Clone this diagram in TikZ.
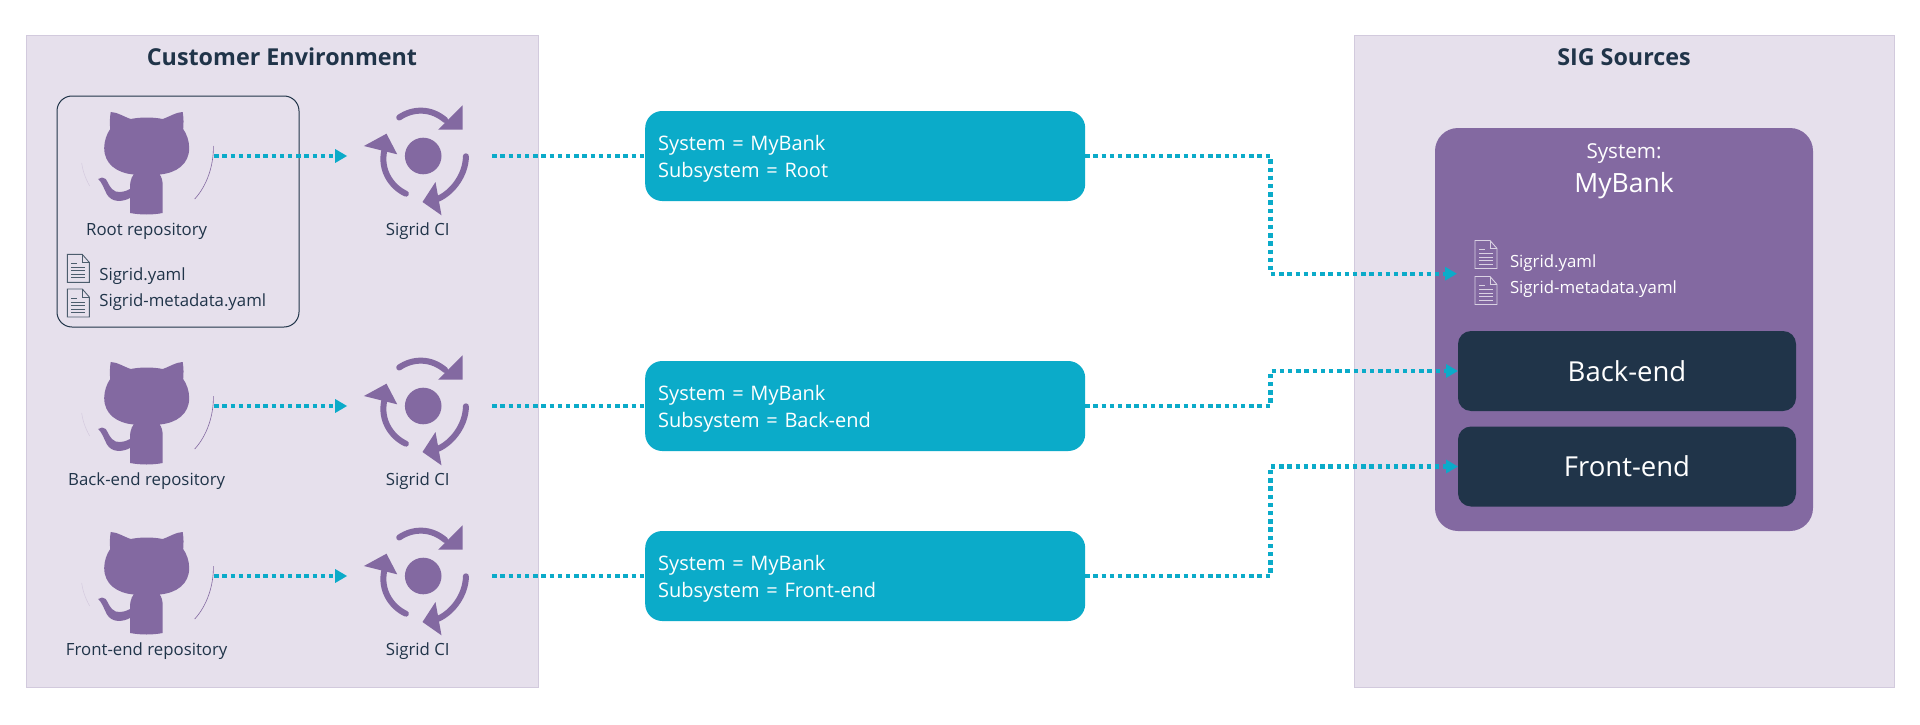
\documentclass[tikz,border=0pt]{standalone}
\usepackage{fontspec}
\setmainfont{Open Sans}
\usetikzlibrary{arrows.meta,positioning}
\definecolor{panelbg}{HTML}{E6E0EC}
\definecolor{panelline}{HTML}{D2CADD}
\definecolor{sigpurple}{HTML}{8369A1}
\definecolor{sigteal}{HTML}{0BABC9}
\definecolor{signavy}{HTML}{203449}
\tikzset{
  % Base styles
  diagram base/.style={
    x=1pt, y=-1pt,
    every node/.style={outer sep=0pt, inner sep=0pt},
  },
  % Containers
  panel/.style={rectangle, draw=panelline, line width=0.7pt, fill=panelbg, minimum height=652pt},
  panel title/.style={font=\fontsize{23.3}{28}\selectfont\bfseries, text=signavy},
  repo frame/.style={rectangle, draw=signavy, line width=1pt, rounded corners=15pt, minimum width=242pt, minimum height=231pt},
  system box/.style={rectangle, fill=sigpurple, rounded corners=23pt, minimum width=378pt, minimum height=403pt},
  module box/.style={rectangle, fill=signavy, rounded corners=13pt, minimum width=338pt, minimum height=80pt, text=white, font=\fontsize{27.5}{33}\selectfont},
  % Icon holders
  cat node/.style={minimum width=135pt, minimum height=100pt},
  ci node/.style={minimum width=138pt, minimum height=100pt},
  % Labels
  caption/.style={font=\fontsize{16.8}{20}\selectfont, text=signavy},
  file label/.style={font=\fontsize{16.8}{20}\selectfont, anchor=west},
  % Teal boxes
  tag box/.style={rectangle, fill=sigteal, rounded corners=17pt, minimum width=440pt, minimum height=90pt,
    text=white, align=left, text width=414pt, text depth=26pt, font=\fontsize{20}{27}\selectfont},
  % Connectors
  flow/.style={draw=sigteal, line width=4.4pt, dash pattern=on 4.4pt off 3.8pt},
  flow arrow/.style={flow, -{Triangle[length=12pt,width=13pt]}},
  % Icons
  pics/octocat/.style={code={
    \fill[sigpurple] (-36,-44) .. controls (-30,-44) and (-22,-39) .. (-16,-37)
      .. controls (-6,-39) and (6,-39) .. (16,-37)
      .. controls (22,-39) and (30,-44) .. (36,-44)
      .. controls (37,-38) and (37,-32) .. (36.5,-27)
      .. controls (40,-22) and (42.5,-15) .. (42.5,-8)
      .. controls (42.5,8) and (30,17) .. (13,18.5)
      .. controls (15,21) and (16,25) .. (16,30) -- (16,57)
      .. controls (6,59) and (-6,59) .. (-16.7,57) -- (-16.7,42)
      .. controls (-24,46) and (-35,47) .. (-40,38)
      .. controls (-43,32) and (-45,26) .. (-48.5,23)
      .. controls (-46,21) and (-43,21) .. (-41,23)
      .. controls (-38,27) and (-37,33) .. (-31,35.5)
      .. controls (-26,37) and (-20,35) .. (-16.7,33)
      .. controls (-17,28) and (-16,22) .. (-13,18.5)
      .. controls (-30,17) and (-42.5,8) .. (-42.5,-8)
      .. controls (-42.5,-15) and (-40,-22) .. (-36.5,-27)
      .. controls (-37,-32) and (-37,-38) .. (-36,-44) -- cycle;
    \draw[sigpurple, line width=0.6pt] (66.7,-10) .. controls (67,10) and (60,30) .. (48,43);
    \draw[sigpurple!35, line width=0.5pt] (-65,7) .. controls (-64,15) and (-61,23) .. (-57,30);
  }},
  pics/ci icon/.style={code={
    \fill[sigpurple] (0,0) circle (18.3);
    \draw[sigpurple, line width=6pt, line cap=round] (-24,-38.5) .. controls (-10,-48) and (8,-48) .. (22,-36);
    \fill[sigpurple] (39.3,-50.7) -- (39.3,-26.3) -- (15,-26.3) -- cycle;
    \draw[sigpurple, line width=6pt, line cap=round] (42.7,0.3) .. controls (42.7,18) and (30,36) .. (15,42.7);
    \fill[sigpurple] (12.3,26) -- (-0.7,46) -- (18.3,59.3) -- cycle;
    \draw[sigpurple, line width=6pt, line cap=round] (-17.3,37.7) .. controls (-32,31) and (-46,12) .. (-37,-12);
    \fill[sigpurple] (-59.3,-10) -- (-36.7,-22.3) -- (-26,-1.7) -- cycle;
  }},
  pics/doc/.style={code={
    \draw[#1, line width=0.9pt, fill=none, line join=miter] (-11,-14) -- (4,-14) -- (11,-6) -- (11,14) -- (-11,14) -- cycle;
    \draw[#1, line width=0.6pt] (4,-14) -- (4,-6) -- (11,-6);
    \draw[#1, line width=0.9pt] (-7,-5) -- (-1,-5) (-7,-1) -- (7,-1) (-7,2.5) -- (7,2.5) (-7,6) -- (7,6) (-7,9.5) -- (7,9.5);
  }},
}

\begin{document}
\begin{tikzpicture}[diagram base]
\useasboundingbox (0,0) rectangle (1920,725);

% Panels
\node[panel, minimum width=512pt] (customer) at (282,361) {};
\node[panel, minimum width=540pt] (sources) at (1624,361) {};
\node[panel title] (customertitle) at (282,57) {Customer Environment};
\node[panel title] (sourcestitle) at (1624,57) {SIG Sources};

% Root repository frame
\node[repo frame] (rootframe) at (178,211.5) {};

% Repositories (first column)
\node[cat node] (cat1) at (146.7,156) {};
\node[cat node] (cat2) at (146.7,406) {};
\node[cat node] (cat3) at (146.7,576) {};
\pic at (cat1) {octocat};
\pic at (cat2) {octocat};
\pic at (cat3) {octocat};
\node[caption] (cat1label) at ([yshift=-75pt]cat1) {Root repository};
\node[caption] (cat2label) at ([yshift=-75pt]cat2) {Back-end repository};
\node[caption] (cat3label) at ([yshift=-75pt]cat3) {Front-end repository};

% Root files
\pic at (78.3,268.4) {doc=signavy!80};
\pic at (78.3,303) {doc=signavy!80};
\node[file label, text=signavy] (rootyaml) at (99.3,276) {Sigrid.yaml};
\node[file label, text=signavy] (rootmeta) at (99.3,302) {Sigrid-metadata.yaml};

% Sigrid CI (second column)
\node[ci node, right=140pt of cat1] (ci1) {};
\node[ci node, right=140pt of cat2] (ci2) {};
\node[ci node, right=140pt of cat3] (ci3) {};
\pic at (ci1) {ci icon};
\pic at (ci2) {ci icon};
\pic at (ci3) {ci icon};
\node[caption] (ci1label) at ([xshift=-5.5pt,yshift=-75pt]ci1) {Sigrid CI};
\node[caption] (ci2label) at ([xshift=-5.5pt,yshift=-75pt]ci2) {Sigrid CI};
\node[caption] (ci3label) at ([xshift=-5.5pt,yshift=-75pt]ci3) {Sigrid CI};

% Teal boxes
\node[tag box, right=153pt of ci1] (tag1) {System = MyBank\\Subsystem = Root};
\node[tag box, right=153pt of ci2] (tag2) {System = MyBank\\Subsystem = Back-end};
\node[tag box, right=153pt of ci3] (tag3) {System = MyBank\\Subsystem = Front-end};

% System box
\node[system box] (mybank) at (1624,329.5) {};
\node[text=white, font=\fontsize{20.6}{25}\selectfont] (systemlabel) at (1624,154) {System:};
\node[text=white, font=\fontsize{26.5}{32}\selectfont] (systemname) at (1624,186) {MyBank};
\pic at (1486,254.5) {doc=white!70!sigpurple};
\pic at (1486,290.5) {doc=white!70!sigpurple};
\node[file label, text=white] (sourceyaml) at (1510,263) {Sigrid.yaml};
\node[file label, text=white] (sourcemeta) at (1510,289) {Sigrid-metadata.yaml};
\node[module box] (backend) at (1627,371) {Back-end};
\node[module box] (frontend) at (1627,466.5) {Front-end};

% Connector ends
\coordinate (filesin) at (1457,273.7);
\coordinate (riser) at (1270.5,0);

% Connectors
\draw[flow arrow, shorten >=7pt] (cat1) ++(67.5,0) -- (ci1.west);
\draw[flow arrow, shorten >=7pt] (cat2) ++(67.5,0) -- (ci2.west);
\draw[flow arrow, shorten >=7pt] (cat3) ++(67.5,0) -- (ci3.west);
\draw[flow] (ci1.east) -- (tag1.west);
\draw[flow] (ci2.east) -- (tag2.west);
\draw[flow] (ci3.east) -- (tag3.west);
\draw[flow arrow] (tag1.east) -- (tag1.east -| riser) |- (filesin);
\draw[flow arrow] (tag2.east) -- (tag2.east -| riser) |- (backend.west);
\draw[flow arrow] (tag3.east) -- (tag3.east -| riser) |- (frontend.west);
\end{tikzpicture}
\end{document}
